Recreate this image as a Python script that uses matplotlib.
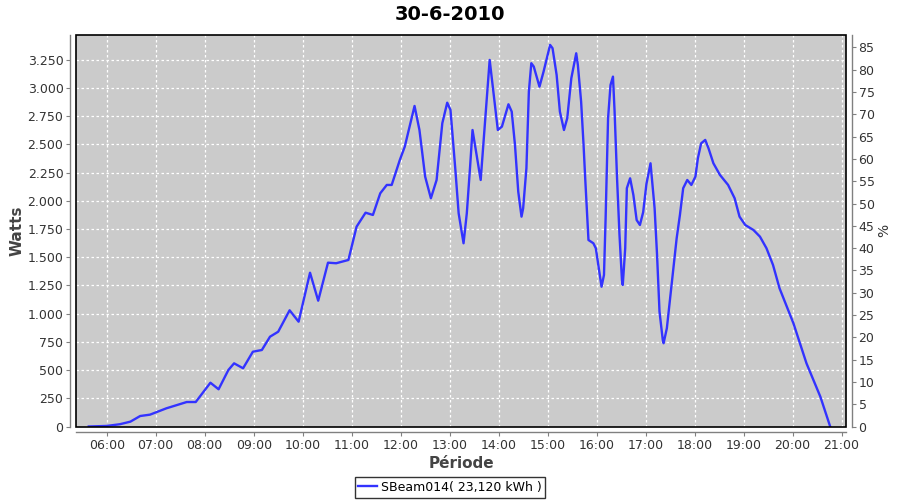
import matplotlib
matplotlib.use("Agg")
import matplotlib.pyplot as plt
from matplotlib.patches import Rectangle
from matplotlib.ticker import FuncFormatter, MultipleLocator

# power readings
times = ["05:38", "06:00", "06:16", "06:29", "06:41", "06:53", "07:13", "07:38", "07:49",
         "08:07", "08:14", "08:17", "08:29", "08:36", "08:47", "08:59", "09:10", "09:20",
         "09:30", "09:44", "09:55", "10:09", "10:19", "10:31", "10:41", "10:56", "11:06",
         "11:17", "11:26", "11:35", "11:43", "11:49", "11:59", "12:05", "12:17", "12:23",
         "12:30", "12:37", "12:44", "12:51", "12:57", "13:01", "13:07", "13:11", "13:17",
         "13:21", "13:25", "13:28", "13:38", "13:49", "13:59", "14:04", "14:12", "14:16",
         "14:20", "14:24", "14:28", "14:30", "14:34", "14:37", "14:40", "14:43", "14:50",
         "14:55", "15:03", "15:06", "15:11", "15:15", "15:20", "15:24", "15:29", "15:35",
         "15:37", "15:41", "15:44", "15:46", "15:48", "15:50", "15:56", "15:59", "16:02",
         "16:06", "16:09", "16:11", "16:14", "16:17", "16:20", "16:22", "16:25", "16:28",
         "16:31", "16:32", "16:35", "16:37", "16:41", "16:45", "16:49", "16:53", "16:57",
         "17:01", "17:06", "17:11", "17:14", "17:17", "17:21", "17:22", "17:26", "17:30",
         "17:34", "17:38", "17:42", "17:46", "17:51", "17:56", "18:01", "18:04", "18:08",
         "18:13", "18:17", "18:23", "18:31", "18:41", "18:49", "18:55", "19:02", "19:12",
         "19:20", "19:28", "19:36", "19:44", "20:01", "20:17", "20:34", "20:46"]
watts = [0, 5, 20, 43, 93, 105, 161, 217, 217,
         388, 347, 330, 501, 560, 516, 663, 678, 796,
         840, 1030, 929, 1363, 1115, 1452, 1447, 1476, 1771,
         1895, 1875, 2067, 2141, 2141, 2363, 2480, 2841, 2628,
         2214, 2023, 2185, 2688, 2870, 2806, 2274, 1890, 1624,
         1890, 2300, 2628, 2185, 3249, 2628, 2658, 2856, 2791,
         2495, 2082, 1860, 1934, 2289, 2968, 3220, 3190, 3012,
         3145, 3382, 3353, 3116, 2791, 2628, 2732, 3087, 3308,
         3205, 2879, 2495, 2200, 1934, 1653, 1624, 1580, 1432,
         1239, 1343, 1846, 2732, 3027, 3101, 2791, 2200, 1698,
         1299, 1254, 1580, 2112, 2200, 2052, 1830, 1786, 1900,
         2150, 2333, 1934, 1520, 1018, 767, 738, 871, 1136,
         1402, 1668, 1875, 2112, 2185, 2141, 2215, 2378, 2510,
         2540, 2466, 2333, 2230, 2141, 2023, 1860, 1786, 1742,
         1683, 1580, 1432, 1225, 915, 560, 264, 0]

hour_ticks = list(range(6, 22))
series_label = "SBeam014( 23,120 kWh )"

def to_hours(s):
    h, m = s.split(":")
    return int(h) + int(m) / 60.0

hours = [to_hours(t) for t in times]

fig = plt.figure(figsize=(9, 5), dpi=100)
ax = fig.add_axes([76/900, 1 - 426.5/500, 770/900, 391.5/500])
ax.set_facecolor("#cbcbcb")

line, = ax.plot(hours, watts, color="#3333ff", lw=1.7, label=series_label)

ax.set_xlim(5.373, 21.09)
ax.set_ylim(0, 3470)
ax.set_xticks(hour_ticks)
ax.xaxis.set_major_formatter(FuncFormatter(lambda v, p: "%02d:00" % int(round(v))))
ax.yaxis.set_major_locator(MultipleLocator(250))
ax.yaxis.set_major_formatter(FuncFormatter(lambda v, p: f"{int(v):,}".replace(",", ".")))
ax.grid(True, color="white", linestyle=(0, (2, 2)), lw=0.9)
ax.set_axisbelow(True)

# right axis for %
ax2 = ax.twinx()
ax2.set_ylim(0, 87.8)
ax2.yaxis.set_major_locator(MultipleLocator(5))

for a in (ax, ax2):
    for s in a.spines.values():
        s.set_visible(False)
    a.tick_params(colors="#808080", labelcolor="#333333", labelsize=9, length=3, width=0.8, pad=2)

ax.spines["left"].set_visible(True)
ax.spines["left"].set_position(("outward", 4))
ax.spines["bottom"].set_visible(True)
ax.spines["bottom"].set_position(("outward", 4))
ax2.spines["right"].set_visible(True)
ax2.spines["right"].set_position(("outward", 4))
for s in (ax.spines["left"], ax.spines["bottom"], ax2.spines["right"]):
    s.set_color("#808080")
    s.set_linewidth(1)

# black plot border
ax2.add_patch(Rectangle((0, 0), 1, 1, transform=ax.transAxes, fill=False,
                        edgecolor="black", lw=1.2, clip_on=False, zorder=5))

ax.set_xlabel("Période", fontsize=11, fontweight="bold", color="#444444", labelpad=3)
ax.set_ylabel("Watts", fontsize=11, fontweight="bold", color="#444444", labelpad=2)
ax2.set_ylabel("%", fontsize=10, color="#333333", labelpad=2)
fig.suptitle("30-6-2010", fontsize=14, fontweight="bold", y=0.99)

leg = fig.legend(handles=[line], loc="lower center", bbox_to_anchor=(0.5, 0.0),
                 frameon=True, fancybox=False, fontsize=9, handlelength=1.5,
                 handletextpad=0.3, borderpad=0.3, borderaxespad=0.2)
leg.get_frame().set_edgecolor("black")
leg.get_frame().set_linewidth(1)

fig.savefig("out.png", dpi=100)
